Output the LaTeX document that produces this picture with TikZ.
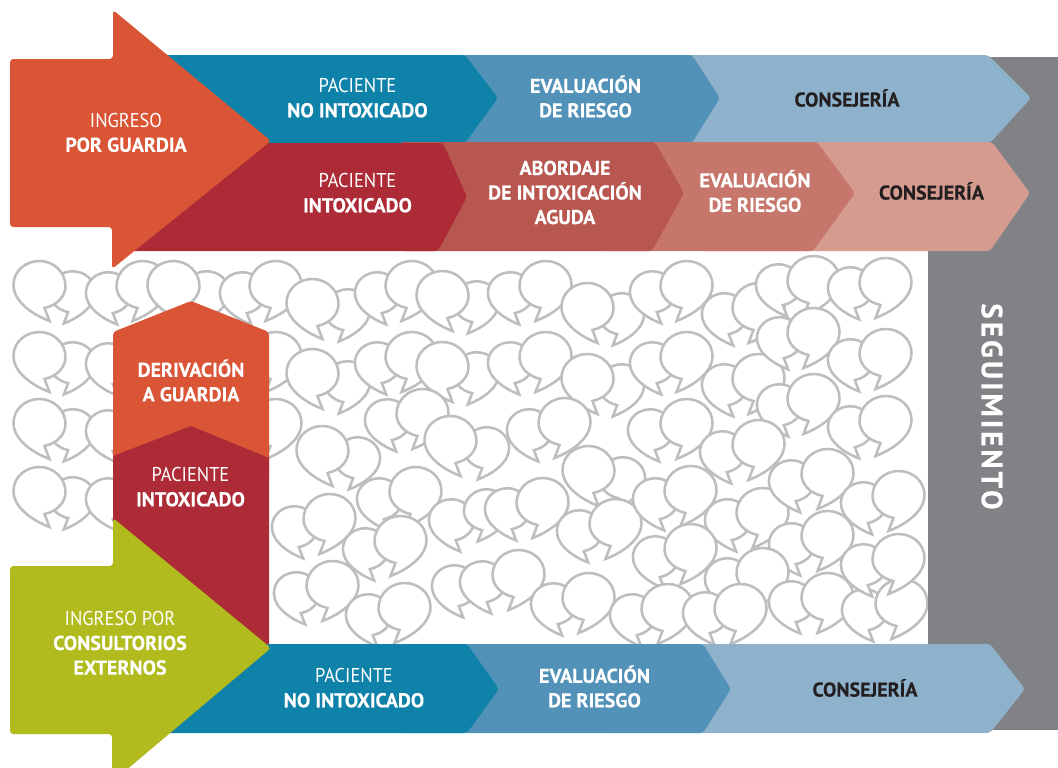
\documentclass[tikz,border=0pt]{standalone}
\usepackage{fontspec}
\setmainfont{PT Sans}[FakeStretch=0.92,BoldFeatures={FakeStretch=1,FakeBold=0.2}]
\definecolor{cOrange}{HTML}{DA5535}
\definecolor{cTeal}{HTML}{0F82AA}
\definecolor{cCrim}{HTML}{AC2B37}
\definecolor{cMidB}{HTML}{5392B8}
\definecolor{cLigB}{HTML}{8FB2CC}
\definecolor{cRose}{HTML}{B85750}
\definecolor{cRoseB}{HTML}{C7766B}
\definecolor{cRoseC}{HTML}{D59B8F}
\definecolor{cLime}{HTML}{B1BB1D}
\definecolor{cGray}{HTML}{808285}
\definecolor{cBub}{HTML}{BCBEC0}
\definecolor{cDark}{HTML}{231F20}
\tikzset{
  bub/.style={draw=cBub,fill=white,line width=1.9pt,line join=miter,miter limit=6},
  shp/.style={rounded corners=2.5pt},
  lab/.style={font=\fontsize{15}{18.4}\selectfont,text=white,align=center,inner sep=0pt},
  labd/.style={lab,text=cDark},
}
\newcommand\bb[3]{\path[bub,shift={(#1+0.5,#2+1)},xscale=#3,yscale=1] (10,35) -- (10,35) .. controls (-6,29) and (-26,16) .. (-26,-1) .. controls (-26,-15) and (-14,-25) .. (0,-25) .. controls (14,-25) and (26,-14) .. (26,0) .. controls (26,9) and (19,19) .. (5,22) -- cycle;}
\newcommand\bs[3]{\path[bub,shift={(#1+0.5,#2+1)},xscale=#3,yscale=.87] (10,35) -- (10,35) .. controls (-6,29) and (-26,16) .. (-26,-1) .. controls (-26,-15) and (-14,-25) .. (0,-25) .. controls (14,-25) and (26,-14) .. (26,0) .. controls (26,9) and (19,19) .. (5,22) -- cycle;}
\newcommand\FL[2]{\bb{#1}{#2}{1}}
\newcommand\FR[2]{\bb{#1}{#2}{-1}}
\newcommand\BL[2]{\bs{#1}{#2}{.87}}
\newcommand\BR[2]{\bs{#1}{#2}{-.87}}
\newcommand\bo[1]{\textbf{#1}}
\begin{document}
\begin{tikzpicture}[x=0.75pt,y=-0.75pt]
\useasboundingbox (0,0) rectangle (1058,768);
% bubbles
\BR{72}{292}\FL{39}{285}\BL{108}{293}\FR{142}{285}\BR{206}{292}\FL{173}{285}\BL{242}{293}\FR{275}{285}
\BR{347}{310}\FL{312}{303}\BL{377}{293}\FR{411}{285}\BR{476}{302}\FL{442}{295}\BL{510}{293}\FR{545}{285}
\BR{621}{314}\FL{587}{307}\BL{652}{292}\FR{686}{285}\BL{724}{314}\FR{758}{307}\BL{778}{285}\FR{813}{280}\BL{850}{288}\FR{885}{282}
\BR{72}{363}\FL{39}{356}\BL{108}{364}\BL{242}{364}\FR{275}{356}
\BR{347}{382}\FL{312}{373}\BL{377}{363}\FR{411}{356}\BR{476}{373}\FL{442}{366}\BL{510}{363}\FR{545}{356}
\BR{621}{385}\FL{587}{378}\BL{652}{363}\FR{686}{356}\BL{724}{385}\FR{758}{378}\BL{779}{338}\FR{813}{332}\BL{779}{405}\FR{813}{398}\BL{850}{360}\FR{885}{353}\BL{850}{427}\FR{885}{420}
\BR{72}{430}\FL{39}{423}\BL{108}{431}\FR{275}{423}
\BR{357}{458}\FL{322}{450}\BL{387}{420}\FR{422}{413}\BR{486}{448}\FL{450}{440}\BL{529}{430}\FR{564}{422}
\BR{622}{478}\FL{588}{470}\BL{650}{430}\FR{686}{423}\BL{722}{452}\FR{758}{444}
\BR{72}{498}\FL{39}{491}\BL{108}{499}
\BL{379}{499}\FR{415}{491}\BL{294}{527}\FR{329}{518}\BL{365}{549}\FR{400}{540}
\BL{451}{520}\BR{486}{510}\BL{507}{509}\FR{542}{502}\BL{579}{531}\FR{615}{523}
\BL{655}{499}\FR{690}{490}\BL{727}{520}\FR{762}{512}\BL{791}{481}\FR{827}{473}\BL{791}{544}\FR{827}{535}\BL{863}{503}\FR{898}{495}
\BL{655}{557}\FR{690}{548}\BL{727}{579}\FR{762}{572}
\BL{296}{593}\FR{332}{585}\BL{368}{615}\FR{404}{607}\BL{454}{586}\BL{482}{582}\FR{518}{574}\BL{553}{604}\FR{588}{597}
\BL{632}{615}\FR{667}{608}\BL{705}{613}\FR{740}{608}\BL{791}{602}\FR{827}{597}\BL{864}{610}\FR{901}{603}\BL{863}{565}\FR{898}{558}
% gray band
\fill[cGray] (928,57) rectangle (1058,730);
% top blue row
\fill[cLigB,shp] (600,55) -- (988,55) -- (1031,98) -- (990,143) -- (600,143) -- cycle;
\fill[cMidB,shp] (400,55) -- (692,55) -- (720,98) -- (692,143) -- (400,143) -- cycle;
\fill[cTeal,shp] (150,55) -- (465,55) -- (498,98) -- (465,143) -- (150,143) -- cycle;
% top red row
\fill[cRoseC,shp] (700,142) -- (992,142) -- (1030,193) -- (990,251) -- (700,251) -- cycle;
\fill[cRoseB,shp] (600,142) -- (817,142) -- (855,193) -- (813,251) -- (600,251) -- cycle;
\fill[cRose,shp] (400,142) -- (655,142) -- (684,193) -- (652,251) -- (400,251) -- cycle;
\fill[cCrim,shp] (120,143) -- (443,143) -- (467,197) -- (438,251) -- (120,251) -- cycle;
% top arrow
\fill[cOrange,shp] (10,59) -- (113,59) -- (113,10) -- (271,141) -- (112,269) -- (112,227) -- (10,227) -- cycle;
% left column
\fill[cOrange,shp] (113,332) -- (191,301) -- (269,332) -- (269,480) -- (113,480) -- cycle;
\fill[cCrim] (113,456) -- (191,426) -- (269,458) -- (269,648) -- (113,648) -- cycle;
% bottom row
\fill[cLigB,shp] (600,644) -- (990,644) -- (1025,689) -- (990,733) -- (600,733) -- cycle;
\fill[cMidB,shp] (400,644) -- (703,644) -- (731,689) -- (703,733) -- (400,733) -- cycle;
\fill[cTeal,shp] (150,644) -- (467,644) -- (499,689) -- (467,733) -- (150,733) -- cycle;
% bottom arrow
\begin{scope}
\clip (0,0) rectangle (1058,768);
\fill[cLime,shp] (10,566) -- (113,566) -- (113,518) -- (271,648) -- (112,782) -- (112,734) -- (10,734) -- cycle;
\end{scope}
% labels
\node[lab] (t1) at (126,132.5) {INGRESO\\\bo{POR GUARDIA}};
\node[lab] (t2) at (357.5,98) {PACIENTE\\\bo{NO INTOXICADO}};
\node[lab] (t3) at (585.5,96.5) {\bo{EVALUACIÓN}\\\bo{DE RIESGO}};
\node[labd] (t4) at (847,98) {\bo{CONSEJERÍA}};
\node[lab] (t5) at (357.5,193) {PACIENTE\\\bo{INTOXICADO}};
\node[lab] (t6) at (565,192.5) {\bo{ABORDAJE}\\\bo{DE INTOXICACIÓN}\\\bo{AGUDA}};
\node[lab] (t7) at (755,191) {\bo{EVALUACIÓN}\\\bo{DE RIESGO}};
\node[labd] (t8) at (931.5,191) {\bo{CONSEJERÍA}};
\node[lab] (t9) at (191,380.5) {\bo{DERIVACIÓN}\\\bo{A GUARDIA}};
\node[lab] (t10) at (190.5,487) {PACIENTE\\\bo{INTOXICADO}};
\node[lab] (t11) at (120,643) {INGRESO POR\\\bo{CONSULTORIOS}\\\bo{EXTERNOS}};
\node[lab] (t12) at (354,688) {PACIENTE\\\bo{NO INTOXICADO}};
\node[lab] (t13) at (594.5,686.5) {\bo{EVALUACIÓN}\\\bo{DE RIESGO}};
\node[labd] (t14) at (865,688) {\bo{CONSEJERÍA}};
\node[lab,rotate=-90,font=\fontsize{22}{24}\selectfont\bfseries] (t15) at (992,406.5) {\addfontfeature{LetterSpace=10}SEGUIMIENTO};
\end{tikzpicture}
\end{document}
